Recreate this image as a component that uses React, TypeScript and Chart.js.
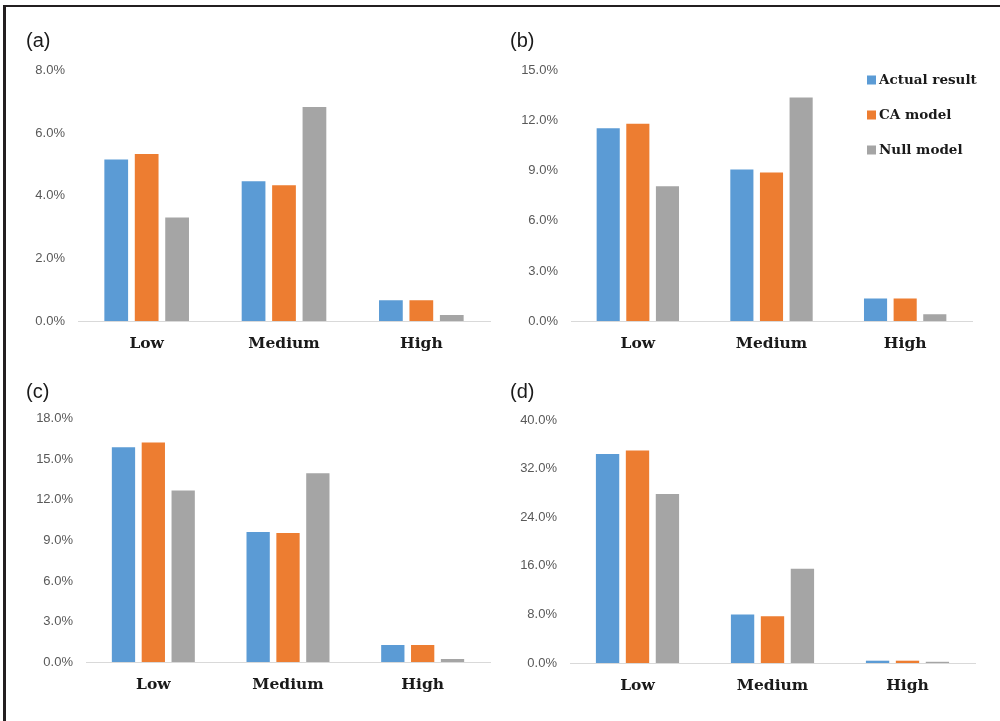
import React, { useEffect, useRef } from "react";
import { Chart, registerables } from "chart.js";

Chart.register(...registerables);

// ---- data ----
const categories = ["Low", "Medium", "High"];
const seriesNames = ["Actual result", "CA model", "Null model"];
const seriesColors = ["#5B9BD5", "#ED7D31", "#A5A5A5"];

const aActual = [5.16, 4.47, 0.66];
const aCA = [5.34, 4.34, 0.66];
const aNull = [3.31, 6.84, 0.19];

const bActual = [11.55, 9.08, 1.35];
const bCA = [11.83, 8.9, 1.35];
const bNull = [8.08, 13.4, 0.41];

const cActual = [15.9, 9.63, 1.25];
const cCA = [16.25, 9.55, 1.25];
const cNull = [12.7, 13.97, 0.22];

const dActual = [34.4, 8.0, 0.38];
const dCA = [35.0, 7.7, 0.38];
const dNull = [27.8, 15.5, 0.2];

const aTicks = { max: 8, step: 2 };
const bTicks = { max: 15, step: 3 };
const cTicks = { max: 18, step: 3 };
const dTicks = { max: 40, step: 8 };

// ---- legend drawn inside the plot ----
const insideLegend = {
  id: "insideLegend",
  afterDraw(chart: any, _args: any, opts: any) {
    if (!opts || !opts.show) return;
    const ctx = chart.ctx;
    ctx.save();
    ctx.font = 'bold 13.5px "DejaVu Serif"';
    ctx.textBaseline = "middle";
    ctx.textAlign = "left";
    chart.data.datasets.forEach((ds: any, i: number) => {
      const y = opts.y + i * opts.gap;
      ctx.fillStyle = ds.backgroundColor;
      ctx.fillRect(opts.x, y - 4.5, 9, 9);
      ctx.fillStyle = "#1a1a1a";
      ctx.fillText(ds.label, opts.x + 12, y + 0.5);
    });
    ctx.restore();
  },
};

type PanelProps = {
  letter: string;
  series: number[][];
  ticks: { max: number; step: number };
  cx: number;
  cy: number;
  cw: number;
  ch: number;
  area: { left: number; top: number; right: number; bottom: number };
  letterPos: { x: number; y: number };
  legend?: { x: number; y: number; gap: number };
};

function Panel(p: PanelProps) {
  const ref = useRef<HTMLCanvasElement | null>(null);
  useEffect(() => {
    if (!ref.current) return;
    const yW = p.area.left - p.cx;
    const xH = p.cy + p.ch - p.area.bottom;
    const chart = new Chart(ref.current, {
      type: "bar",
      data: {
        labels: categories,
        datasets: p.series.map((vals, i) => ({
          label: seriesNames[i],
          data: vals,
          backgroundColor: seriesColors[i],
          borderWidth: 0,
          categoryPercentage: 0.665,
          barPercentage: 0.78,
        })),
      },
      plugins: [insideLegend],
      options: {
        responsive: false,
        animation: false,
        layout: {
          padding: {
            left: 0,
            top: p.area.top - p.cy,
            right: p.cx + p.cw - p.area.right,
            bottom: 0,
          },
        },
        plugins: {
          legend: { display: false },
          tooltip: { enabled: false },
          title: { display: false },
          insideLegend: p.legend
            ? { show: true, x: p.legend.x - p.cx, y: p.legend.y - p.cy, gap: p.legend.gap }
            : { show: false },
        } as any,
        scales: {
          x: {
            grid: { display: false, drawTicks: false },
            border: { display: true, color: "#D9D9D9", width: 1 },
            ticks: {
              color: "#1a1a1a",
              padding: 14,
              font: { family: '"DejaVu Serif"', weight: "bold", size: 15.5 },
              maxRotation: 0,
            },
            afterFit: (s: any) => {
              s.height = xH;
            },
          },
          y: {
            min: 0,
            max: p.ticks.max,
            grid: { display: false, drawTicks: false },
            border: { display: false },
            ticks: {
              stepSize: p.ticks.step,
              color: "#595959",
              padding: 13,
              font: { family: '"Liberation Sans", Arial, sans-serif', size: 13 },
              callback: (v: any) => Number(v).toFixed(1) + "%",
            },
            afterFit: (s: any) => {
              s.width = yW;
            },
          },
        },
      },
    });
    return () => chart.destroy();
  }, []);
  return (
    <>
      <canvas
        ref={ref}
        width={p.cw}
        height={p.ch}
        style={{ position: "absolute", left: p.cx, top: p.cy, width: p.cw, height: p.ch }}
      />
      <div
        style={{
          position: "absolute",
          left: p.letterPos.x,
          top: p.letterPos.y,
          fontFamily: '"Liberation Sans", Arial, sans-serif',
          fontSize: 20,
          lineHeight: "20px",
          color: "#1a1a1a",
        }}
      >
        {p.letter}
      </div>
    </>
  );
}

export default function App() {
  return (
    <div
      style={{
        position: "absolute",
        left: 0,
        top: 0,
        width: 1000,
        height: 721,
        background: "#ffffff",
        overflow: "hidden",
      }}
    >
      <div style={{ position: "absolute", left: 3, top: 5, width: 997, height: 2, background: "#231f20" }} />
      <div style={{ position: "absolute", left: 3, top: 5, width: 3, height: 716, background: "#231f20" }} />
      <Panel
        letter="(a)"
        series={[aActual, aCA, aNull]}
        ticks={aTicks}
        cx={10}
        cy={50}
        cw={490}
        ch={320}
        area={{ left: 78, top: 65, right: 490, bottom: 321 }}
        letterPos={{ x: 26, y: 30 }}
      />
      <Panel
        letter="(b)"
        series={[bActual, bCA, bNull]}
        ticks={bTicks}
        cx={500}
        cy={50}
        cw={500}
        ch={320}
        area={{ left: 571, top: 65, right: 972, bottom: 321 }}
        letterPos={{ x: 510, y: 30 }}
        legend={{ x: 867, y: 80, gap: 35 }}
      />
      <Panel
        letter="(c)"
        series={[cActual, cCA, cNull]}
        ticks={cTicks}
        cx={10}
        cy={398}
        cw={490}
        ch={318}
        area={{ left: 86, top: 417, right: 490, bottom: 662 }}
        letterPos={{ x: 26, y: 381 }}
      />
      <Panel
        letter="(d)"
        series={[dActual, dCA, dNull]}
        ticks={dTicks}
        cx={500}
        cy={398}
        cw={500}
        ch={318}
        area={{ left: 570, top: 420, right: 975, bottom: 663 }}
        letterPos={{ x: 510, y: 381 }}
      />
    </div>
  );
}
